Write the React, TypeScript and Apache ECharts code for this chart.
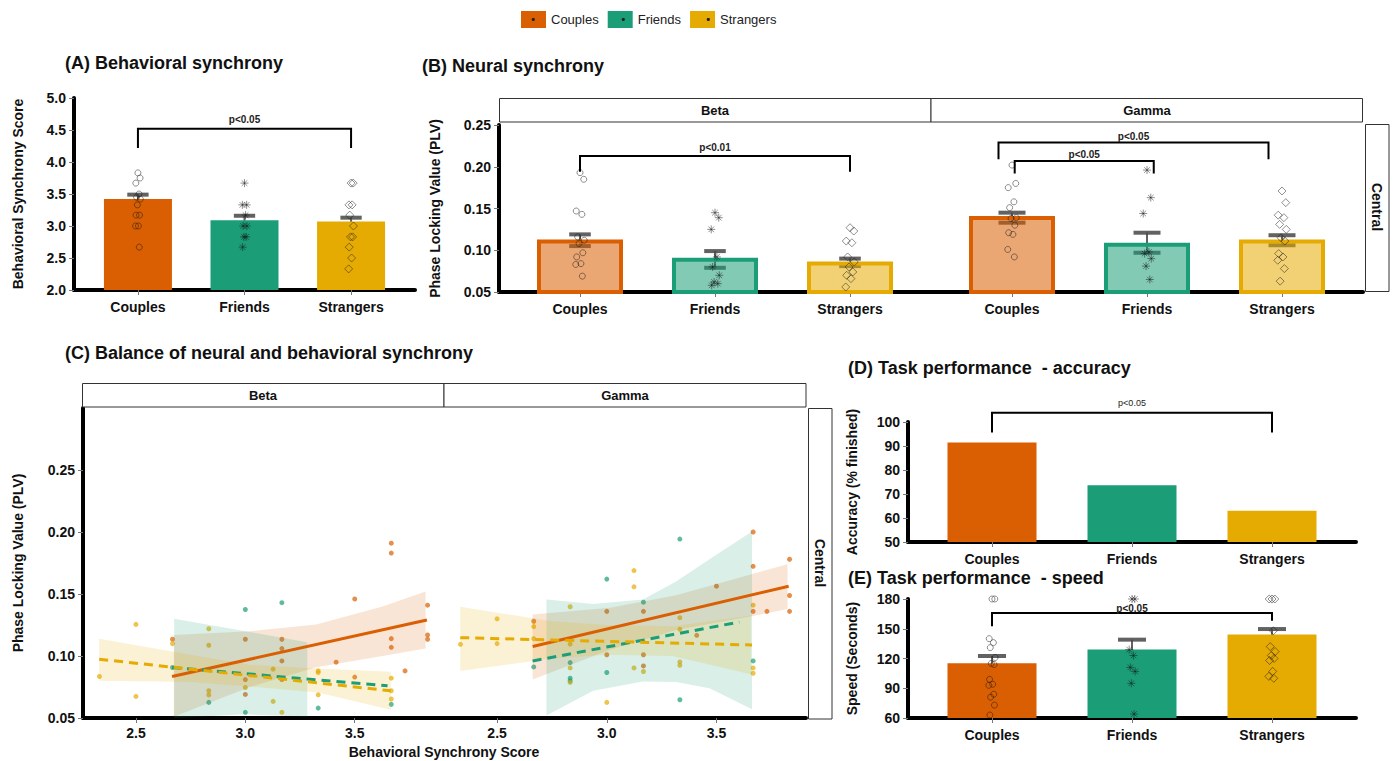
import React, { useEffect, useRef } from 'react';
import * as echarts from 'echarts';

const FONT = '"Liberation Sans", Arial, Helvetica, sans-serif';

// ---------- shared ----------
const groups = ['Couples', 'Friends', 'Strangers'];
const groupColors = ['#D95F02', '#1B9E77', '#E6AB02'];
const groupFills = ['rgba(217,95,2,0.55)', 'rgba(27,158,119,0.55)', 'rgba(230,171,2,0.55)'];
const bandFills = ['rgba(217,95,2,0.16)', 'rgba(27,158,119,0.17)', 'rgba(230,171,2,0.17)'];

// ---------- (A) Behavioral synchrony ----------
const aMeans = [3.42, 3.09, 3.07];
const aErrLow = [3.35, 3.02, 3.01];
const aErrHigh = [3.49, 3.16, 3.13];
const aPtsCouples = [3.83, 3.75, 3.67, 3.5, 3.45, 3.42, 3.33, 3.17, 3.17, 3.0, 3.0, 2.67];
const aPtsFriends = [3.67, 3.33, 3.33, 3.17, 3.0, 3.0, 2.83, 2.83, 2.67];
const aPtsStrangers = [3.67, 3.67, 3.33, 3.33, 3.17, 3.0, 2.83, 2.83, 2.67, 2.5, 2.33];
const aBrackets = [[1, 3, 4.52, 4.22, 4.22]];
const aBracketLabels = ['p<0.05'];
const aTicks = [2.0, 2.5, 3.0, 3.5, 4.0, 4.5, 5.0];

// ---------- (B) Neural synchrony ----------
const bBetaMeans = [0.113, 0.091, 0.0865];
const bBetaErrLow = [0.105, 0.079, 0.081];
const bBetaErrHigh = [0.119, 0.099, 0.090];
const bGammaMeans = [0.141, 0.109, 0.113];
const bGammaErrLow = [0.133, 0.097, 0.106];
const bGammaErrHigh = [0.145, 0.121, 0.118];
const bBetaPtsCouples = [0.193, 0.185, 0.147, 0.143, 0.116, 0.112, 0.108, 0.097, 0.092, 0.084, 0.083, 0.069];
const bBetaPtsFriends = [0.145, 0.139, 0.125, 0.092, 0.080, 0.070, 0.062, 0.060, 0.058];
const bBetaPtsStrangers = [0.127, 0.123, 0.111, 0.109, 0.092, 0.086, 0.080, 0.074, 0.070, 0.066, 0.056];
const bGammaPtsCouples = [0.202, 0.180, 0.175, 0.158, 0.151, 0.139, 0.138, 0.130, 0.121, 0.119, 0.101, 0.092];
const bGammaPtsFriends = [0.196, 0.163, 0.144, 0.098, 0.096, 0.090, 0.081, 0.065];
const bGammaPtsStrangers = [0.171, 0.157, 0.142, 0.139, 0.131, 0.125, 0.115, 0.111, 0.096, 0.092, 0.088, 0.078, 0.063];
const bBetaBrackets = [[1, 3, 0.213, 0.194, 0.194]];
const bBetaBracketLabels = ['p<0.01'];
const bGammaBrackets = [[0.9, 2.9, 0.229, 0.209, 0.209], [1.02, 2.05, 0.207, 0.192, 0.192]];
const bGammaBracketLabels = ['p<0.05', 'p<0.05'];
const bTicks = [0.05, 0.1, 0.15, 0.2, 0.25];
const facetLabels = ['Beta', 'Gamma'];
const regionLabel = 'Central';

// ---------- (C) Balance of neural and behavioral synchrony ----------
const cBetaCouples = [[2.667, 0.1135], [3.0, 0.1135], [3.167, 0.1135], [3.167, 0.106], [3.167, 0.096], [3.167, 0.081], [3.0, 0.081], [3.0, 0.069], [3.415, 0.095], [3.5, 0.146], [3.5, 0.083], [3.667, 0.191], [3.667, 0.183], [3.667, 0.114], [3.667, 0.107], [3.73, 0.088], [3.833, 0.141], [3.833, 0.117], [3.833, 0.1135]];
const cBetaFriends = [[2.667, 0.0907], [2.833, 0.0626], [3.0, 0.1375], [3.0, 0.0546], [3.167, 0.143], [3.333, 0.058], [3.667, 0.061]];
const cBetaStrangers = [[2.333, 0.0835], [2.5, 0.1255], [2.5, 0.0674], [2.667, 0.110], [2.833, 0.122], [2.833, 0.1087], [2.833, 0.072], [2.833, 0.0686], [3.0, 0.0746], [3.127, 0.0894], [3.127, 0.0634], [3.167, 0.0546], [3.333, 0.088], [3.333, 0.0866], [3.333, 0.0687], [3.667, 0.0821], [3.667, 0.072], [3.667, 0.0653]];
const cGammaCouples = [[2.667, 0.128], [3.0, 0.136], [3.0, 0.101], [3.167, 0.136], [3.167, 0.101], [3.167, 0.092], [3.41, 0.1167], [3.5, 0.1563], [3.667, 0.200], [3.667, 0.1723], [3.667, 0.136], [3.73, 0.136], [3.833, 0.178], [3.833, 0.1488], [3.833, 0.136]];
const cGammaFriends = [[2.667, 0.0912], [2.833, 0.0947], [2.833, 0.0821], [2.833, 0.080], [3.0, 0.162], [3.0, 0.0867], [3.167, 0.1434], [3.333, 0.1943], [3.333, 0.0647], [3.667, 0.096]];
const cGammaStrangers = [[2.333, 0.1094], [2.5, 0.130], [2.5, 0.110], [2.667, 0.1237], [2.667, 0.114], [2.833, 0.1397], [2.833, 0.1096], [2.833, 0.0904], [2.833, 0.0787], [3.0, 0.0626], [3.124, 0.1689], [3.124, 0.1558], [3.124, 0.0904], [3.167, 0.0875], [3.333, 0.1309], [3.333, 0.1215], [3.333, 0.0952], [3.333, 0.0925], [3.667, 0.141], [3.667, 0.0904], [3.667, 0.0861]];
// fitted lines (start, end)
const cBetaCouplesFit = [[2.665, 0.0835], [3.83, 0.129]];
const cBetaFriendsFit = [[2.665, 0.0907], [3.65, 0.076]];
const cBetaStrangersFit = [[2.332, 0.0974], [3.665, 0.0719]];
const cGammaCouplesFit = [[2.662, 0.1076], [3.829, 0.1563]];
const cGammaFriendsFit = [[2.662, 0.096], [3.604, 0.1274]];
const cGammaStrangersFit = [[2.332, 0.1148], [3.662, 0.1089]];
// confidence bands: [x, lower, upper]
const cBetaCouplesBand = [[2.673, 0.051, 0.117], [3.02, 0.075, 0.120], [3.324, 0.091, 0.1255], [3.627, 0.100, 0.140], [3.824, 0.106, 0.152]];
const cBetaFriendsBand = [[2.675, 0.050, 0.130], [3.0, 0.053, 0.120], [3.283, 0.051, 0.111]];
const cBetaStrangersBand = [[2.332, 0.080, 0.114], [2.75, 0.079, 0.101], [3.02, 0.0755, 0.093], [3.33, 0.0706, 0.090], [3.665, 0.0567, 0.0872]];
const cGammaCouplesBand = [[2.662, 0.081, 0.1335], [3.014, 0.105, 0.139], [3.316, 0.121, 0.149], [3.66, 0.132, 0.166], [3.824, 0.138, 0.174]];
const cGammaFriendsBand = [[2.725, 0.052, 0.1456], [2.938, 0.072, 0.142], [3.165, 0.0795, 0.1456], [3.316, 0.079, 0.160], [3.468, 0.074, 0.178], [3.662, 0.057, 0.2005]];
const cGammaStrangersBand = [[2.332, 0.088, 0.1397], [2.75, 0.098, 0.128], [3.0, 0.101, 0.125], [3.3, 0.100, 0.124], [3.657, 0.0853, 0.1327]];
const cTicksX = [2.5, 3.0, 3.5];
const cTicksY = [0.05, 0.1, 0.15, 0.2, 0.25];

// ---------- (D) accuracy ----------
const dValues = [91.5, 73.6, 63.0];
const dBrackets = [[1, 3, 103.9, 95.6, 95.6]];
const dBracketLabels = ['p<0.05'];

// ---------- (E) speed ----------
const eMeans = [115.1, 129.2, 144.3];
const eErrLow = [107.7, 119.4, 138.9];
const eErrHigh = [122.5, 139.0, 149.7];
const ePtsCouples = [180, 180, 140, 136, 131, 121, 115, 114, 99, 94, 93, 84, 81, 73, 63];
const ePtsFriends = [180, 180, 129, 123, 111, 107, 95, 64];
const ePtsStrangers = [180, 180, 180, 148, 132, 127, 123, 120, 118, 107, 102, 100];
const eBrackets = [[1, 3, 165.9, 152.4, 158.0]];
const eBracketLabels = ['p<0.05'];

// ---------- styling helpers ----------
const JIT = [0, 0.4, -0.4, 0.2, -0.25, 0.45, -0.1, 0.3, -0.35, 0.1, -0.45, 0.25, -0.2, 0.35, -0.3];
const PT_SYMBOL = ['circle', 'path://M5 0L5 10M0 5L10 5M1.5 1.5L8.5 8.5M8.5 1.5L1.5 8.5', 'diamond'];
const PT_SIZE = [6, 8, 8];
const catPos = groups.map((_, i) => i + 1);

const tickLabelStyle = { color: '#111', fontWeight: 'bold', fontSize: 14, fontFamily: FONT };
const axisNameStyle = { color: '#111', fontWeight: 'bold', fontSize: 14, fontFamily: FONT };
const AXIS_LINE = { show: true, onZero: false, lineStyle: { color: '#000', width: 4 } };

function catX(k: number) {
  return {
    type: 'value', gridIndex: k, min: 0.4, max: 3.6,
    splitLine: { show: false },
    axisLine: AXIS_LINE,
    axisTick: { show: true, customValues: catPos, length: 5, lineStyle: { color: '#777', width: 1 } },
    axisLabel: { customValues: catPos, formatter: (v: number) => groups[Math.round(v) - 1] || '', margin: 10, ...tickLabelStyle },
  };
}

function valY(k: number, min: number, max: number, ticks: number[] | null, interval: number | null, digits: number, name: string | null, nameGap: number) {
  const o: any = {
    type: 'value', gridIndex: k, min, max,
    splitLine: { show: false },
    axisLine: AXIS_LINE,
    axisTick: { show: true, length: 5, lineStyle: { color: '#777', width: 1 } },
    axisLabel: { formatter: (v: number) => v.toFixed(digits), margin: 8, ...tickLabelStyle },
  };
  if (interval != null) o.interval = interval;
  if (ticks) { o.axisTick.customValues = ticks; o.axisLabel.customValues = ticks; }
  if (name) {
    o.name = name; o.nameLocation = 'middle'; o.nameRotate = 90; o.nameGap = nameGap; o.nameTextStyle = axisNameStyle;
  }
  return o;
}

function barSeries(k: number, means: number[], width: number, filled: boolean, named: boolean) {
  return groups.map((g, i) => ({
    type: 'bar', name: named ? g : `${g}-${k}`, xAxisIndex: k, yAxisIndex: k, silent: true, z: 2,
    barWidth: width, barGap: '-100%',
    data: [[i + 1, means[i]]],
    itemStyle: filled
      ? { color: groupColors[i] }
      : { color: groupFills[i], borderColor: groupColors[i], borderWidth: 4 },
  }));
}

function errSeries(k: number, lo: number[], hi: number[], capHalf: number) {
  return {
    type: 'custom', xAxisIndex: k, yAxisIndex: k, silent: true, z: 1, clip: false,
    data: lo.map((v, i) => [i + 1, v, hi[i]]),
    renderItem: (_p: any, api: any) => {
      const x = api.value(0);
      const pLo = api.coord([x, api.value(1)]);
      const pHi = api.coord([x, api.value(2)]);
      const half = api.coord([x + capHalf, api.value(1)])[0] - pLo[0];
      const stroke = 'rgba(70,70,70,0.85)';
      return {
        type: 'group',
        children: [
          { type: 'line', shape: { x1: pLo[0], y1: pLo[1], x2: pHi[0], y2: pHi[1] }, style: { stroke, lineWidth: 2 } },
          { type: 'line', shape: { x1: pLo[0] - half, y1: pLo[1], x2: pLo[0] + half, y2: pLo[1] }, style: { stroke, lineWidth: 4 } },
          { type: 'line', shape: { x1: pHi[0] - half, y1: pHi[1], x2: pHi[0] + half, y2: pHi[1] }, style: { stroke, lineWidth: 4 } },
        ],
      };
    },
  };
}

function pointSeries(k: number, pts: number[][], spread: number) {
  return groups.map((g, i) => ({
    type: 'scatter', name: `${g}-pts-${k}`, xAxisIndex: k, yAxisIndex: k, silent: true, z: 4, clip: false,
    symbol: PT_SYMBOL[i], symbolSize: PT_SIZE[i],
    itemStyle: { color: 'rgba(0,0,0,0)', borderColor: 'rgba(20,20,20,0.6)', borderWidth: 1 },
    data: pts[i].map((v, j) => [i + 1 + JIT[j % JIT.length] * spread, v]),
  }));
}

function bracketSeries(k: number, brackets: number[][], labels: string[], font: string, gap: number) {
  return {
    type: 'custom', xAxisIndex: k, yAxisIndex: k, silent: true, z: 6, clip: false,
    data: brackets,
    renderItem: (params: any, api: any) => {
      const x1 = api.value(0), x2 = api.value(1), top = api.value(2), d1 = api.value(3), d2 = api.value(4);
      const p1 = api.coord([x1, d1]);
      const p2 = api.coord([x1, top]);
      const p3 = api.coord([x2, top]);
      const p4 = api.coord([x2, d2]);
      return {
        type: 'group',
        children: [
          { type: 'polyline', shape: { points: [p1, p2, p3, p4] }, style: { stroke: '#000', lineWidth: 2, fill: null } },
          {
            type: 'text', x: (p2[0] + p3[0]) / 2, y: p2[1] - gap,
            style: { text: labels[params.dataIndex], font, fill: '#222', align: 'center', verticalAlign: 'bottom' },
          },
        ],
      };
    },
  };
}

function cScatter(k: number, pts: number[][], i: number) {
  return {
    type: 'scatter', name: `${groups[i]}-c-${k}`, xAxisIndex: k, yAxisIndex: k, silent: true, z: 1,
    symbol: 'circle', symbolSize: 5,
    itemStyle: { color: groupColors[i], opacity: 0.7 },
    data: pts,
  };
}

function cBand(k: number, band: number[][], i: number) {
  return {
    type: 'custom', xAxisIndex: k, yAxisIndex: k, silent: true, z: 2,
    data: band,
    renderItem: (params: any, api: any) => {
      if (params.dataIndex !== 0) return null;
      const top = band.map((r) => api.coord([r[0], r[2]]));
      const bot = band.map((r) => api.coord([r[0], r[1]])).reverse();
      return { type: 'polygon', shape: { points: top.concat(bot) }, style: { fill: bandFills[i] } };
    },
  };
}

function cFit(k: number, fit: number[][], i: number) {
  return {
    type: 'line', xAxisIndex: k, yAxisIndex: k, silent: true, z: 5,
    symbol: 'none', showSymbol: false,
    data: fit,
    lineStyle: { color: groupColors[i], width: 3, type: i === 0 ? 'solid' : [9, 6] },
  };
}

function buildOption(): any {
  const titleStyle = { fontSize: 18, fontWeight: 'bold', fontFamily: FONT, color: '#111' };
  const titles = [
    { text: '(A) Behavioral synchrony', left: 65, top: 54 },
    { text: '(B) Neural synchrony', left: 422, top: 57 },
    { text: '(C) Balance of neural and behavioral synchrony', left: 65, top: 344 },
    { text: '(D) Task performance  - accuracy', left: 848, top: 359 },
    { text: '(E) Task performance  - speed', left: 848, top: 569 },
  ].map((t) => ({ ...t, padding: 0, textStyle: titleStyle }));

  const grids = [
    { left: 74, top: 98, width: 341, height: 192 },
    { left: 499, top: 125, width: 432, height: 167 },
    { left: 931, top: 125, width: 432, height: 167 },
    { left: 83, top: 408, width: 361, height: 310 },
    { left: 444, top: 408, width: 362, height: 310 },
    { left: 908, top: 422, width: 448, height: 120 },
    { left: 908, top: 599, width: 448, height: 119 },
  ];

  const cX = (k: number) => ({
    type: 'value', gridIndex: k, min: 2.258, max: 3.908,
    splitLine: { show: false },
    axisLine: AXIS_LINE,
    axisTick: { show: true, customValues: cTicksX, length: 5, lineStyle: { color: '#777', width: 1 } },
    axisLabel: { customValues: cTicksX, formatter: (v: number) => v.toFixed(1), margin: 8, ...tickLabelStyle },
  });

  const xAxis = [catX(0), catX(1), catX(2), cX(3), cX(4), catX(5), catX(6)];
  const yAxis = [
    valY(0, aTicks[0], aTicks[aTicks.length - 1], null, 0.5, 1, 'Behavioral Synchrony Score', 49),
    valY(1, bTicks[0], bTicks[bTicks.length - 1], null, 0.05, 2, 'Phase Locking Value (PLV)', 57),
    { type: 'value', gridIndex: 2, min: bTicks[0], max: bTicks[bTicks.length - 1], show: false },
    valY(3, 0.05, 0.30, cTicksY, null, 2, 'Phase Locking Value (PLV)', 58),
    { type: 'value', gridIndex: 4, min: 0.05, max: 0.30, show: false },
    valY(5, 50, 100, null, 10, 0, 'Accuracy (% finished)', 49),
    valY(6, 60, 180, null, 30, 0, 'Speed (Seconds)', 49),
  ];

  const bracketFont = `bold 10px ${FONT}`;
  const series: any[] = [
    // A
    ...barSeries(0, aMeans, 68, true, true),
    errSeries(0, aErrLow, aErrHigh, 0.1),
    ...pointSeries(0, [aPtsCouples, aPtsFriends, aPtsStrangers], 0.05),
    bracketSeries(0, aBrackets, aBracketLabels, bracketFont, 4),
    // B beta
    ...barSeries(1, bBetaMeans, 86, false, false),
    errSeries(1, bBetaErrLow, bBetaErrHigh, 0.08),
    ...pointSeries(1, [bBetaPtsCouples, bBetaPtsFriends, bBetaPtsStrangers], 0.07),
    bracketSeries(1, bBetaBrackets, bBetaBracketLabels, bracketFont, 3),
    // B gamma
    ...barSeries(2, bGammaMeans, 86, false, false),
    errSeries(2, bGammaErrLow, bGammaErrHigh, 0.1),
    ...pointSeries(2, [bGammaPtsCouples, bGammaPtsFriends, bGammaPtsStrangers], 0.07),
    bracketSeries(2, bGammaBrackets, bGammaBracketLabels, bracketFont, 1),
    // C beta
    cScatter(3, cBetaCouples, 0), cScatter(3, cBetaFriends, 1), cScatter(3, cBetaStrangers, 2),
    cBand(3, cBetaCouplesBand, 0), cBand(3, cBetaFriendsBand, 1), cBand(3, cBetaStrangersBand, 2),
    cFit(3, cBetaCouplesFit, 0), cFit(3, cBetaFriendsFit, 1), cFit(3, cBetaStrangersFit, 2),
    // C gamma
    cScatter(4, cGammaCouples, 0), cScatter(4, cGammaFriends, 1), cScatter(4, cGammaStrangers, 2),
    cBand(4, cGammaCouplesBand, 0), cBand(4, cGammaFriendsBand, 1), cBand(4, cGammaStrangersBand, 2),
    cFit(4, cGammaCouplesFit, 0), cFit(4, cGammaFriendsFit, 1), cFit(4, cGammaStrangersFit, 2),
    // D
    ...barSeries(5, dValues, 89, true, false),
    bracketSeries(5, dBrackets, dBracketLabels, `9px ${FONT}`, 5),
    // E
    ...barSeries(6, eMeans, 89, true, false),
    errSeries(6, eErrLow, eErrHigh, 0.1),
    ...pointSeries(6, [ePtsCouples, ePtsFriends, ePtsStrangers], 0.05),
    bracketSeries(6, eBrackets, eBracketLabels, bracketFont, -1),
  ];

  const stripText = (text: string, x: number, y: number, rot = 0) => ({
    type: 'text', x, y, rotation: rot, z: 10,
    style: { text, font: `bold 13px ${FONT}`, fill: '#111', align: 'center', verticalAlign: 'middle' },
  });
  const stripRect = (x: number, y: number, w: number, h: number) => ({
    type: 'rect', shape: { x, y, width: w, height: h }, z: 9,
    style: { fill: '#fff', stroke: '#333', lineWidth: 1 },
  });

  const graphic = [
    // legend key dots
    ...[533.3, 623.3, 708.3].map((cx) => ({ type: 'circle', shape: { cx, cy: 19.5, r: 1.6 }, style: { fill: '#222' }, z: 20 })),
    // B strips
    stripRect(499.5, 98.5, 431.5, 23.5), stripText(facetLabels[0], 715, 110.5),
    stripRect(931, 98.5, 431.5, 23.5), stripText(facetLabels[1], 1147, 110.5),
    stripRect(1365.5, 124.5, 23.5, 167), { ...stripText(regionLabel, 1377, 207, -Math.PI / 2), style: { text: regionLabel, font: `bold 14px ${FONT}`, fill: '#111', align: 'center', verticalAlign: 'middle' } },
    // C strips
    stripRect(82.5, 383.5, 361.5, 23.5), stripText(facetLabels[0], 263, 395.5),
    stripRect(444, 383.5, 362, 23.5), stripText(facetLabels[1], 625, 395.5),
    stripRect(808.5, 408.5, 23.5, 310.5), { ...stripText(regionLabel, 820, 563, -Math.PI / 2), style: { text: regionLabel, font: `bold 14px ${FONT}`, fill: '#111', align: 'center', verticalAlign: 'middle' } },
    // C x-axis title
    { type: 'text', x: 444, y: 752, style: { text: 'Behavioral Synchrony Score', font: `bold 14px ${FONT}`, fill: '#111', align: 'center', verticalAlign: 'middle' } },
  ];

  return {
    animation: false,
    backgroundColor: '#fff',
    title: titles,
    legend: {
      data: groups, left: 521, top: 11, padding: 0, itemWidth: 25, itemHeight: 17, itemGap: 9,
      icon: 'rect', selectedMode: false,
      textStyle: { fontSize: 13, fontFamily: FONT, color: '#222' },
    },
    grid: grids,
    xAxis,
    yAxis,
    series,
    graphic,
  };
}

export default function App() {
  const ref = useRef<HTMLDivElement>(null);
  useEffect(() => {
    document.body.style.margin = '0';
    const chart = echarts.init(ref.current as HTMLDivElement, null, { renderer: 'svg' });
    chart.setOption(buildOption());
    return () => chart.dispose();
  }, []);
  return <div ref={ref} style={{ width: 1394, height: 761, background: '#fff' }} />;
}
